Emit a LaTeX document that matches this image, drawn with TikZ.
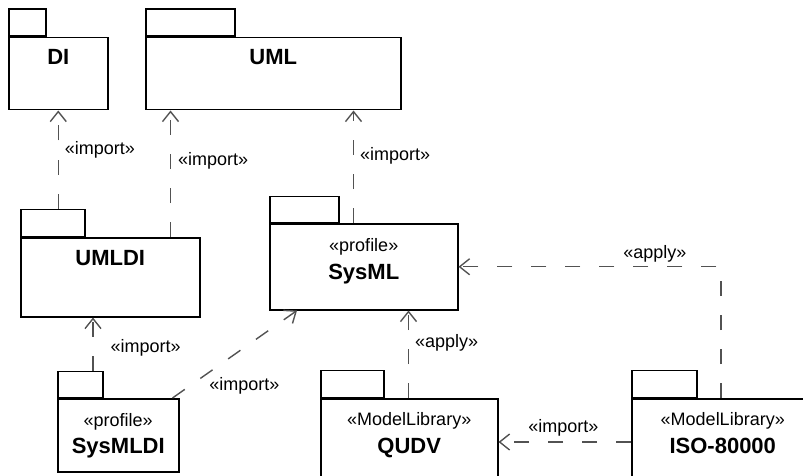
\documentclass[tikz,border=0pt]{standalone}
\usepackage{fontspec}
\setmainfont{Liberation Sans}
\usetikzlibrary{arrows.meta,positioning}

\begin{document}
\begin{tikzpicture}[x=1pt,y=-1pt,
  pkg/.style={draw, line width=1.5pt, inner sep=0pt, anchor=north west},
  tab/.style={draw, line width=1.5pt, inner sep=0pt, anchor=south west, minimum height=27pt},
  stereo/.style={font=\fontsize{18}{20}\selectfont, anchor=base, inner sep=0pt},
  title/.style={font=\fontsize{22}{24}\selectfont\bfseries, anchor=base, inner sep=0pt},
  lbl/.style={font=\fontsize{18}{20}\selectfont, inner sep=0pt},
  dep/.style={draw=black!68, line width=1.4pt, dash pattern=on 15pt off 19pt,
    -{Straight Barb[length=10pt,width=16pt]}}]
\useasboundingbox (0,0) rectangle (803,476);

% packages
\node[pkg, minimum width=99pt, minimum height=72pt] (di) at (8,37) {};
\node[tab, minimum width=37pt] (di-tab) at (di.north west) {};
\node[title] at ([yshift=-28pt]di.north) {DI};

\node[pkg, minimum width=255pt, minimum height=72pt] (uml) at (145,37) {};
\node[tab, minimum width=89pt] (uml-tab) at (uml.north west) {};
\node[title] at ([yshift=-28pt]uml.north) {UML};

\node[pkg, minimum width=179pt, minimum height=79pt] (umldi) at (20,237) {};
\node[tab, minimum width=64pt] (umldi-tab) at (umldi.north west) {};
\node[title] at ([yshift=-28pt]umldi.north) {UMLDI};

\node[pkg, minimum width=188pt, minimum height=86pt] (sysml) at (269,223) {};
\node[tab, minimum width=69pt, minimum height=26pt] (sysml-tab) at (sysml.north west) {};
\node[stereo] at ([yshift=-28pt]sysml.north) {«profile»};
\node[title] at ([yshift=-56pt]sysml.north) {SysML};

\node[pkg, minimum width=121pt, minimum height=73pt] (sysmldi) at (57,398) {};
\node[tab, minimum width=45pt, minimum height=26pt] (sysmldi-tab) at (sysmldi.north west) {};
\node[stereo] at ([yshift=-28pt]sysmldi.north) {«profile»};
\node[title] at ([yshift=-55pt]sysmldi.north) {SysMLDI};

\node[pkg, minimum width=177pt, minimum height=100pt] (qudv) at (320,398) {};
\node[tab, minimum width=63pt] (qudv-tab) at (qudv.north west) {};
\node[stereo] at ([yshift=-27pt]qudv.north) {«ModelLibrary»};
\node[title] at ([yshift=-55pt]qudv.north) {QUDV};

\node[pkg, minimum width=182pt, minimum height=100pt] (iso) at (631,398) {};
\node[tab, minimum width=65pt] (iso-tab) at (iso.north west) {};
\node[stereo] at ([yshift=-27pt]iso.north) {«ModelLibrary»};
\node[title] at ([yshift=-55pt]iso.north) {ISO-80000};

% dependencies
\coordinate (a1) at (di.south |- umldi-tab.north);
\draw[dep] (a1) -- node[lbl, pos=0.6, right=6pt] {«import»} (di.south);

\coordinate (a2) at ([xshift=-30pt]umldi.north east);
\draw[dep] (a2) -- node[lbl, pos=0.6, right=7pt] {«import»} (a2 |- uml.south);

\coordinate (a3) at ([xshift=-105pt]sysml.north east);
\draw[dep] (a3) -- node[lbl, pos=0.6, right=6pt] {«import»} (a3 |- uml.south);

\coordinate (a4) at ([xshift=36pt]sysmldi-tab.north west);
\draw[dep] (a4) -- node[lbl, pos=0.42, right=17pt] {«import»} (a4 |- umldi.south);

\coordinate (a5) at ([xshift=-7pt]sysmldi.north east);
\coordinate (b5) at ([xshift=28pt]sysml.south west);
\draw[dep] (a5) -- node[lbl, pos=0.29, anchor=west, yshift=-13pt] {«import»} (b5);

\coordinate (a6) at ([xshift=-90pt]qudv.north east);
\draw[dep] (a6) -- node[lbl, pos=0.635, right=6pt] {«apply»} (a6 |- sysml.south);

\coordinate (a7) at ([xshift=90pt]iso.north west);
\draw[dep] (a7) |- node[lbl, pos=0.626, above=4pt] {«apply»} (sysml.east);

\coordinate (a8) at ([yshift=-44pt]iso.north west);
\draw[dep] (a8) -- node[lbl, pos=0.51, above=5pt] {«import»} (a8 -| qudv.east);
\end{tikzpicture}
\end{document}
